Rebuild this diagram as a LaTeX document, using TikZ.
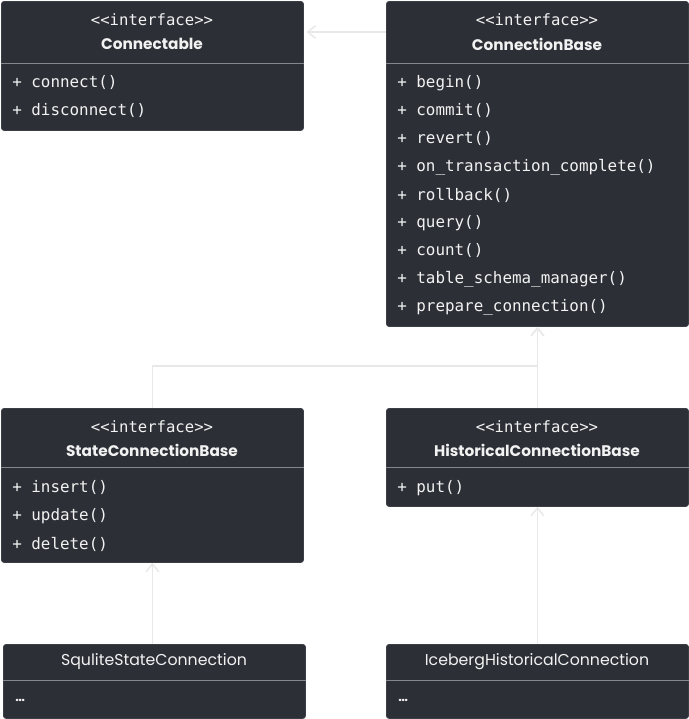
\documentclass[tikz,border=0pt]{standalone}
\usepackage{fontspec}
\newfontfamily\titlefont{Poppins}
\newfontfamily\codefont{DejaVu Sans Mono}
\usetikzlibrary{arrows.meta,positioning,calc}

\definecolor{boxfill}{HTML}{2D2F36}
\definecolor{boxline}{HTML}{3C3E45}
\definecolor{divline}{HTML}{85878C}
\definecolor{txt}{HTML}{F2F2F2}
\definecolor{linkline}{HTML}{E8E8E8}

\tikzset{
  classbox/.style={rectangle, rounded corners=2pt, fill=boxfill, draw=boxline,
    line width=0.6pt, anchor=north west, inner sep=0pt},
  stereo/.style={text=txt, font=\codefont\fontsize{11.1}{12}\selectfont, inner sep=0pt},
  cname/.style={text=txt, font=\titlefont\bfseries\fontsize{10.9}{12}\selectfont, inner sep=0pt},
  cplain/.style={text=txt, font=\titlefont\fontsize{11.2}{12}\selectfont, inner sep=0pt},
  meth/.style={text=txt, font=\codefont\fontsize{11.3}{12}\selectfont, anchor=west, inner sep=0pt},
  dots/.style={text=txt, font=\titlefont\bfseries\fontsize{9}{10}\selectfont, anchor=west, inner sep=0pt},
  divider/.style={draw=divline, line width=0.7pt},
  inherit/.style={draw=linkline, line width=1pt, -{Straight Barb[length=5.5pt,width=9pt]}}
}

\begin{document}
\begin{tikzpicture}[x=0.025cm, y=-0.025cm]
    \useasboundingbox[fill=white] (0,0) rectangle (689,719);

    % Connectable
    \node[classbox, minimum width=7.55cm, minimum height=3.225cm] (cn) at (1,1) {};
    \draw[divider] ($(cn.north west)+(0,62)$) -- ($(cn.north east)+(0,62)$);
    \node[stereo] (cn-st) at (152,20) {<<interface>>};
    \node[cname] (cn-nm) at (152,44) {Connectable};
    \node[meth] (cn-m1) at (12,83) {+ connect()};
    \node[meth] (cn-m2) at (12,111) {+ disconnect()};

    % ConnectionBase
    \node[classbox, minimum width=7.55cm, minimum height=8.125cm] (cb) at (386,1) {};
    \draw[divider] ($(cb.north west)+(0,62)$) -- ($(cb.north east)+(0,62)$);
    \node[stereo] (cb-st) at (537,20) {<<interface>>};
    \node[cname] (cb-nm) at (537,44) {ConnectionBase};
    \node[meth] (cb-m1) at (397,83) {+ begin()};
    \node[meth] (cb-m2) at (397,111) {+ commit()};
    \node[meth] (cb-m3) at (397,139) {+ revert()};
    \node[meth] (cb-m4) at (397,167) {+ on\_transaction\_complete()};
    \node[meth] (cb-m5) at (397,195) {+ rollback()};
    \node[meth] (cb-m6) at (397,223) {+ query()};
    \node[meth] (cb-m7) at (397,251) {+ count()};
    \node[meth] (cb-m8) at (397,279) {+ table\_schema\_manager()};
    \node[meth] (cb-m9) at (397,307) {+ prepare\_connection()};

    % StateConnectionBase
    \node[classbox, minimum width=7.55cm, minimum height=3.85cm] (scb) at (1,408) {};
    \draw[divider] ($(scb.north west)+(0,59)$) -- ($(scb.north east)+(0,59)$);
    \node[stereo] (scb-st) at (152,427) {<<interface>>};
    \node[cname] (scb-nm) at (152,450) {StateConnectionBase};
    \node[meth] (scb-m1) at (12,488) {+ insert()};
    \node[meth] (scb-m2) at (12,516) {+ update()};
    \node[meth] (scb-m3) at (12,544) {+ delete()};

    % HistoricalConnectionBase
    \node[classbox, minimum width=7.55cm, minimum height=2.45cm] (hcb) at (386,408) {};
    \draw[divider] ($(hcb.north west)+(0,59)$) -- ($(hcb.north east)+(0,59)$);
    \node[stereo] (hcb-st) at (537,427) {<<interface>>};
    \node[cname] (hcb-nm) at (537,450) {HistoricalConnectionBase};
    \node[meth] (hcb-m1) at (397,488) {+ put()};

    % SquliteStateConnection
    \node[classbox, minimum width=7.55cm, minimum height=1.85cm] (sq) at (3,644) {};
    \draw[divider] ($(sq.north west)+(0,36)$) -- ($(sq.north east)+(0,36)$);
    \node[cplain] (sq-nm) at (154,662) {SquliteStateConnection};
    \node[dots] (sq-m1) at (15,700) {…};

    % IcebergHistoricalConnection
    \node[classbox, minimum width=7.55cm, minimum height=1.85cm] (ib) at (386,644) {};
    \draw[divider] ($(ib.north west)+(0,36)$) -- ($(ib.north east)+(0,36)$);
    \node[cplain] (ib-nm) at (537,662) {IcebergHistoricalConnection};
    \node[dots] (ib-m1) at (398,700) {…};

    % Inheritance
    \draw[inherit, shorten >=2pt] ($(cb.north west)+(0,31)$) -- ($(cn.north east)+(0,31)$);
    \draw[inherit] (scb.north) |- ($(cb.south)+(0,39)$) -- (cb.south);
    \draw[inherit] (hcb.north) -- (cb.south);
    \draw[inherit] (sq.north -| scb.south) -- (scb.south);
    \draw[inherit] (ib.north) -- (hcb.south);
\end{tikzpicture}
\end{document}
